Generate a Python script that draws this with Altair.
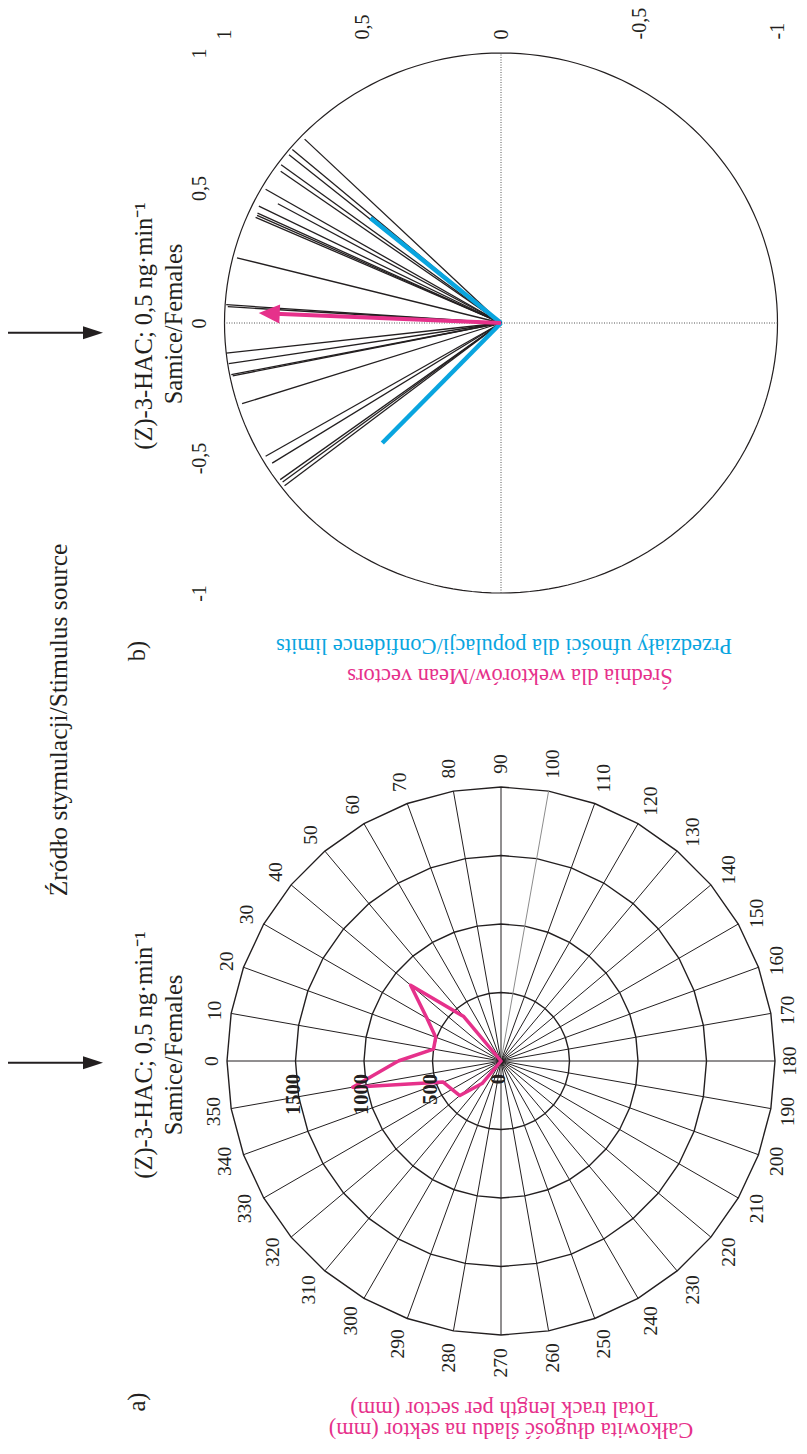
import math
import altair as alt
import pandas as pd

FONT = "Liberation Serif"
INK = "#231f20"
GREY = "#8c8c8c"
PINK = "#e6318b"
BLUE = "#09a5df"

# ---------------- data: panel a (track length per 10-degree sector, mm) ----------------
sector_angle = [0, 10, 20, 30, 40, 50, 60, 70, 80, 90, 100, 110, 120, 130, 140, 150, 160, 170,
                180, 190, 200, 210, 220, 230, 240, 250, 260, 270, 280, 290, 300, 310, 320, 330, 340, 350]
track_length = [750, 500, 507, 624, 861, 423, 0, 0, 0, 0, 0, 0, 0, 0, 0, 0, 0, 0,
                0, 0, 0, 0, 0, 0, 0, 0, 0, 0, 0, 0, 0, 215, 392, 413, 449, 1099]
ring_values = [500, 1000, 1500, 2000]
ring_label_values = [0, 500, 1000, 1500]

# ---------------- data: panel b (individual vectors, mean vector, confidence limits) ----------------
vector_angle = [43.8, 40.4, 39.1, 36.4, 35.2, 30.2, 28.7, 26.3, 24.8, 24.3, 23.8, 14.2, 3.9, 3.5,
                -6.4, -8.7, -11.1, -11.4, -17.7, -30.1, -32.1, -36.0, -36.7, -37.6]
vector_length = [0.984, 0.991, 0.988, 0.988, 0.975, 0.985, 0.920, 0.977, 0.970, 0.968, 0.970, 0.985,
                 0.996, 0.990, 1.000, 0.996, 0.994, 0.990, 0.983, 0.984, 0.977, 0.987, 0.985, 0.988]
mean_angle = [2.4]
mean_length = [0.877]
limit_angle = [39.5, -46.0]
limit_length = [0.612, 0.618]
unit_ticks = [-1, -0.5, 0, 0.5, 1]

# ---------------- texts ----------------
panel_tags = ["b)", "a)"]
title_line1 = "(Z)-3-HAC; 0,5 ng·min⁻¹"
title_line2 = "Samice/Females"
source_text = "Źródło stymulacji/Stimulus source"
legend_b = ["Przedziały ufności dla populacji/Confidence limits", "Średnia dla wektorów/Mean vectors"]
legend_a = ["Total track length per sector (mm)", "Całkowita długość śladu na sektor (mm)"]

# ---------------- layout (page pixels) ----------------
OX, OY, W, H = 8, 8, 791, 1438
A_CX, A_CY, A_R = 501, 1061, 274          # panel a centre / outer-ring radius
B_CX, B_CY, B_RX, B_RY = 501, 323, 276.5, 270   # panel b centre / radii


def domain(p1, v1, p2, v2, origin, size, flip):
    f1 = (p1 - origin) / size
    f2 = (p2 - origin) / size
    if flip:
        f1, f2 = 1 - f1, 1 - f2
    span = (v2 - v1) / (f2 - f1)
    lo = v1 - f1 * span
    return [lo, lo + span]


xa_dom = domain(A_CX, 0, A_CX - A_R, -2000, OX, W, False)
ya_dom = domain(A_CY, 0, A_CY - A_R, 2000, OY, H, True)
xb_dom = domain(B_CX, 0, B_CX - B_RX, 1, OX, W, True)
yb_dom = domain(B_CY, 0, B_CY - B_RY, 1, OY, H, True)

sxa = alt.Scale(domain=xa_dom, zero=False, nice=False)
sya = alt.Scale(domain=ya_dom, zero=False, nice=False)
sxb = alt.Scale(domain=xb_dom, zero=False, nice=False, reverse=True)
syb = alt.Scale(domain=yb_dom, zero=False, nice=False)


def XA(f):
    return alt.X(f, type="quantitative", scale=sxa, axis=None)


def YA(f):
    return alt.Y(f, type="quantitative", scale=sya, axis=None)


label_expr = "replace(replace(format(datum.value, '.1~f'), '.', ','), '−', '-')"
axis_top = alt.Axis(orient="top", values=unit_ticks, labelExpr=label_expr, labelAngle=270,
                    labelAlign="left", labelBaseline="middle", labelPadding=2, offset=-33,
                    domain=False, ticks=False, tickSize=0, grid=False, title=None,
                    labelFont=FONT, labelFontSize=20, labelColor=INK,
                    labelOverlap=False, labelFlush=False)
axis_left = alt.Axis(orient="left", values=unit_ticks, labelExpr=label_expr, labelAngle=270,
                     labelAlign="center", labelBaseline="alphabetic", labelPadding=2, offset=-199,
                     domain=False, ticks=False, tickSize=0, grid=False, title=None,
                     labelFont=FONT, labelFontSize=20, labelColor=INK,
                     labelOverlap=False, labelFlush=False)


def XB(f):
    return alt.X(f, type="quantitative", scale=sxb, axis=axis_top)


def YB(f):
    return alt.Y(f, type="quantitative", scale=syb, axis=axis_left)


def rad(a):
    return math.radians(a)


# ---------------- panel a frames ----------------
poly_rows = []
for i in range(len(sector_angle) + 1):
    k = i % len(sector_angle)
    a, v = sector_angle[k], track_length[k]
    poly_rows.append({"k": i, "x": -v * math.cos(rad(a)), "y": v * math.sin(rad(a))})
poly_df = pd.DataFrame(poly_rows)

ring_rows = []
for r in ring_values:
    for i in range(len(sector_angle) + 1):
        a = sector_angle[i % len(sector_angle)]
        ring_rows.append({"ring": r, "k": i, "x": -r * math.cos(rad(a)), "y": r * math.sin(rad(a))})
ring_df = pd.DataFrame(ring_rows)

rmax = ring_values[-1]
spoke_df = pd.DataFrame({
    "angle": sector_angle,
    "x0": [0.0] * len(sector_angle),
    "y0": [0.0] * len(sector_angle),
    "x1": [-rmax * math.cos(rad(a)) for a in sector_angle],
    "y1": [rmax * math.sin(rad(a)) for a in sector_angle],
})

px_a = rmax / A_R
lab_rows = []
for a in sector_angle:
    s = abs(math.sin(rad(a)))
    L = len(str(a)) * 9.5
    off = 15 + s * (L / 2 - 1.5)
    rl = rmax + off * px_a
    lab_rows.append({"label": str(a), "lx": -rl * math.cos(rad(a)), "ly": rl * math.sin(rad(a))})
angle_lab_df = pd.DataFrame(lab_rows)

ring_lab_df = pd.DataFrame({"label": [str(v) for v in ring_label_values],
                            "x": [-v for v in ring_label_values],
                            "y": [0.0] * len(ring_label_values)})

rings = alt.Chart(ring_df).mark_line(color=INK, strokeWidth=1.4).encode(
    x=XA("x"), y=YA("y"), detail="ring:N", order="k:Q")
spokes = alt.Chart(spoke_df).mark_rule(strokeWidth=1).encode(
    x=XA("x0"), y=YA("y0"), x2="x1", y2="y1",
    color=alt.when(alt.datum.angle == 100).then(alt.value(GREY)).otherwise(alt.value(INK)))
polygon = alt.Chart(poly_df).mark_line(color=PINK, strokeWidth=3.5, strokeJoin="round").encode(
    x=XA("x"), y=YA("y"), order="k:Q")
angle_labels = alt.Chart(angle_lab_df).mark_text(
    font=FONT, fontSize=19.5, color=INK, angle=270, align="center", baseline="middle").encode(
    x=XA("lx"), y=YA("ly"), text="label:N")
ring_labels = alt.Chart(ring_lab_df).mark_text(
    font=FONT, fontSize=20.5, fontWeight="bold", color=INK, angle=270, align="right",
    baseline="alphabetic", dx=-13, dy=4).encode(x=XA("x"), y=YA("y"), text="label:N")

panel_a = alt.layer(rings, spokes, polygon, angle_labels, ring_labels)

# ---------------- panel b frames ----------------
circ_rows = [{"k": i, "x": math.cos(rad(d)), "y": math.sin(rad(d))} for i, d in enumerate(range(0, 362, 2))]
circle_df = pd.DataFrame(circ_rows)
cross_df = pd.DataFrame({"x0": [0, -1], "y0": [-1, 0], "x1": [0, 1], "y1": [1, 0]})
vec_df = pd.DataFrame({
    "x0": [0.0] * len(vector_angle), "y0": [0.0] * len(vector_angle),
    "x1": [l * math.cos(rad(a)) for a, l in zip(vector_angle, vector_length)],
    "y1": [l * math.sin(rad(a)) for a, l in zip(vector_angle, vector_length)],
})
lim_df = pd.DataFrame({
    "x0": [0.0] * len(limit_angle), "y0": [0.0] * len(limit_angle),
    "x1": [l * math.cos(rad(a)) for a, l in zip(limit_angle, limit_length)],
    "y1": [l * math.sin(rad(a)) for a, l in zip(limit_angle, limit_length)],
})
HEAD_LEN = 21
head_r = [l - (HEAD_LEN / 2) / B_RX for l in mean_length]
mean_df = pd.DataFrame({
    "x0": [0.0] * len(mean_angle), "y0": [0.0] * len(mean_angle),
    "x1": [r * math.cos(rad(a)) for a, r in zip(mean_angle, head_r)],
    "y1": [r * math.sin(rad(a)) for a, r in zip(mean_angle, head_r)],
    "ang": mean_angle,
})

circle = alt.Chart(circle_df).mark_line(color=INK, strokeWidth=1.2).encode(
    x=XB("x"), y=YB("y"), order="k:Q")
cross = alt.Chart(cross_df).mark_rule(color="#555555", strokeWidth=1, strokeDash=[1, 1.5]).encode(
    x=XB("x0"), y=YB("y0"), x2="x1", y2="y1")
vectors = alt.Chart(vec_df).mark_rule(color=INK, strokeWidth=1.3).encode(
    x=XB("x0"), y=YB("y0"), x2="x1", y2="y1")
limits = alt.Chart(lim_df).mark_rule(color=BLUE, strokeWidth=4.5).encode(
    x=XB("x0"), y=YB("y0"), x2="x1", y2="y1")
mean_shaft = alt.Chart(mean_df).mark_rule(color=PINK, strokeWidth=4).encode(
    x=XB("x0"), y=YB("y0"), x2="x1", y2="y1")
mean_head = alt.Chart(mean_df).mark_point(
    shape="M-1,0L1,-0.9L1,0.9Z", size=HEAD_LEN ** 2, filled=True, color=PINK, opacity=1,
    strokeWidth=0).encode(x=XB("x1"), y=YB("y1"), angle=alt.Angle("ang:Q", scale=None))

panel_b = alt.layer(circle, cross, vectors, limits, mean_shaft, mean_head)


# ---------------- annotations ----------------
def note(txt, px, py, size, angle, color=INK, baseline="alphabetic"):
    return alt.Chart(pd.DataFrame({"t": [txt]})).mark_text(
        font=FONT, fontSize=size, angle=angle, align="center", baseline=baseline, color=color
    ).encode(text="t:N", x=alt.value(px - OX), y=alt.value(py - OY))


def arrow(py):
    d = pd.DataFrame({"t": [0]})
    shaft = alt.Chart(d).mark_rule(color=INK, strokeWidth=2).encode(
        x=alt.value(0), x2=alt.value(88 - OX), y=alt.value(py - OY))
    head = alt.Chart(d).mark_point(shape="M1,0L-1,-0.65L-1,0.65Z", size=400, filled=True,
                                   color=INK, opacity=1, strokeWidth=0).encode(
        x=alt.value(93 - OX), y=alt.value(py - OY))
    return [shaft, head]


annots = [
    note(source_text, 67, 720, 25.5, 270),
    note(title_line1, 152, 326, 24.5, 270), note(title_line2, 182, 324, 24.5, 270),
    note(title_line1, 152, 1055, 24.5, 270), note(title_line2, 182, 1055, 24.5, 270),
    note(panel_tags[0], 145, 651, 24.5, 270), note(panel_tags[1], 145, 1402, 24.5, 270),
    note(legend_b[0], 504, 646, 22.5, 180, BLUE, "middle"),
    note(legend_b[1], 510, 676, 22.5, 180, PINK, "middle"),
    note(legend_a[0], 504, 1409, 22.5, 180, PINK, "middle"),
    note(legend_a[1], 511, 1430, 22.5, 180, PINK, "middle"),
] + arrow(332.7) + arrow(1062.7)

chart = alt.layer(panel_b, panel_a, *annots).resolve_scale(
    x="independent", y="independent"
).properties(
    width=W, height=H, padding=0,
    autosize=alt.AutoSizeParams(type="none")
).configure_view(stroke=None)

chart.save("out.html", embed_options={"renderer": "svg", "actions": False})
